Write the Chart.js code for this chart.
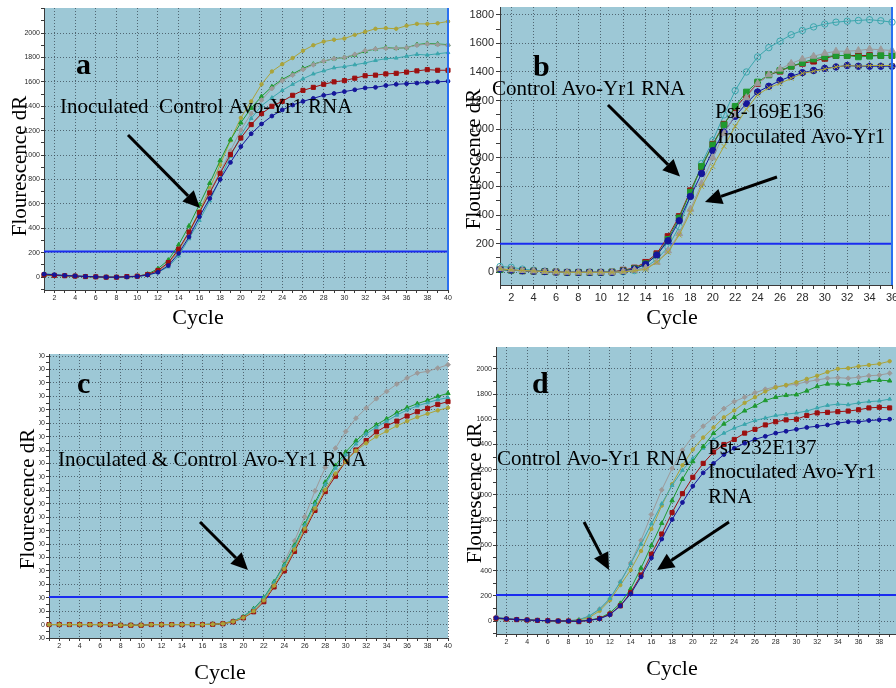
<!DOCTYPE html>
<html>
<head>
<meta charset="utf-8">
<script src="https://cdn.jsdelivr.net/npm/chart.js@4.4.1/dist/chart.umd.min.js"></script>
<style>
  html, body { margin: 0; padding: 0; background: #fff; overflow: hidden; }
  #page { position: relative; width: 896px; height: 688px; overflow: hidden; }
  canvas { position: absolute; }
</style>
</head>
<body>
<div id="page">
  <canvas id="chartA" width="460" height="336" style="left:0px;top:0px"></canvas>
  <canvas id="chartB" width="460" height="336" style="left:452px;top:0px"></canvas>
  <canvas id="chartC" width="460" height="348" style="left:0px;top:340px"></canvas>
  <canvas id="chartD" width="470" height="348" style="left:452px;top:340px"></canvas>
</div>
<script>
// x axis: cycle numbers
const cycles40 = [1, 2, 3, 4, 5, 6, 7, 8, 9, 10, 11, 12, 13, 14, 15, 16, 17, 18, 19, 20,
  21, 22, 23, 24, 25, 26, 27, 28, 29, 30, 31, 32, 33, 34, 35, 36, 37, 38, 39, 40];
const cycles36 = [1, 2, 3, 4, 5, 6, 7, 8, 9, 10, 11, 12, 13, 14, 15, 16, 17, 18,
  19, 20, 21, 22, 23, 24, 25, 26, 27, 28, 29, 30, 31, 32, 33, 34, 35, 36];

// panel a
const blueA = [25, 20, 14, 10, 6, 3, 0, 0, 2, 6, 18, 40, 95, 195, 330, 495, 645, 800, 940, 1070,
  1175, 1255, 1320, 1370, 1410, 1440, 1465, 1490, 1505, 1520, 1535, 1550, 1555, 1570, 1580, 1585, 1590, 1595, 1600, 1605];
const redA = [20, 15, 12, 9, 5, 3, 0, 0, 5, 8, 22, 55, 120, 230, 370, 530, 690, 850, 1005, 1140,
  1250, 1340, 1400, 1440, 1490, 1530, 1555, 1580, 1600, 1610, 1630, 1650, 1655, 1665, 1670, 1680, 1690, 1700, 1695, 1695];
const tealA = [28, 22, 16, 12, 7, 3, 0, 0, 2, 6, 16, 40, 85, 175, 315, 465, 625, 805, 990, 1160,
  1300, 1405, 1470, 1530, 1580, 1625, 1665, 1690, 1715, 1725, 1740, 1755, 1775, 1790, 1795, 1810, 1825, 1820, 1830, 1840];
const grayA = [22, 17, 13, 10, 6, 3, 0, 0, 3, 8, 20, 55, 110, 210, 360, 525, 705, 860, 1035, 1205,
  1340, 1450, 1545, 1610, 1655, 1700, 1740, 1770, 1790, 1800, 1825, 1855, 1870, 1875, 1875, 1880, 1900, 1910, 1905, 1900];
const greenA = [18, 14, 10, 8, 5, 2, 0, 0, 2, 8, 25, 70, 140, 265, 420, 595, 770, 955, 1125, 1265,
  1385, 1480, 1560, 1620, 1665, 1710, 1745, 1770, 1790, 1800, 1820, 1850, 1870, 1880, 1875, 1880, 1905, 1915, 1910, 1905];
const oliveA = [20, 16, 12, 9, 5, 2, 0, 0, 2, 7, 20, 50, 110, 220, 370, 540, 730, 920, 1120, 1305,
  1440, 1580, 1685, 1745, 1795, 1855, 1900, 1930, 1945, 1955, 1985, 2010, 2035, 2040, 2035, 2060, 2075, 2075, 2080, 2095];

// panel b
const tealB = [40, 35, 22, 15, 8, 3, 0, 0, 0, 0, 0, 3, 12, 35, 90, 175, 320, 530, 760, 920,
  1100, 1270, 1400, 1505, 1570, 1615, 1660, 1690, 1715, 1735, 1748, 1755, 1760, 1765, 1758, 1748];
const redB = [20, 15, 10, 8, 5, 2, 0, 0, 0, 0, 2, 15, 30, 70, 130, 250, 390, 570, 735, 895,
  1035, 1150, 1235, 1320, 1380, 1405, 1440, 1460, 1475, 1495, 1515, 1515, 1515, 1515, 1515, 1515];
const greenB = [18, 14, 10, 8, 5, 2, 0, 0, 0, 0, 2, 10, 25, 60, 120, 230, 380, 560, 740, 890,
  1030, 1160, 1260, 1330, 1380, 1410, 1440, 1465, 1490, 1505, 1515, 1515, 1505, 1510, 1515, 1515];
const grayB = [25, 18, 12, 9, 5, 2, 0, 0, 0, 0, 0, 5, 15, 30, 70, 150, 270, 440, 620, 800,
  970, 1100, 1220, 1320, 1380, 1420, 1460, 1490, 1510, 1530, 1545, 1545, 1550, 1560, 1555, 1550];
const blueB = [22, 16, 11, 8, 5, 2, 0, 0, 0, 0, 0, 8, 22, 55, 120, 220, 360, 530, 690, 850,
  980, 1090, 1180, 1260, 1300, 1340, 1370, 1395, 1410, 1425, 1435, 1445, 1440, 1440, 1440, 1440];
const oliveB = [24, 17, 12, 9, 5, 2, 0, 0, 0, 0, 0, 3, 10, 20, 70, 140, 260, 420, 600, 740,
  880, 1020, 1140, 1240, 1290, 1320, 1355, 1390, 1405, 1420, 1435, 1445, 1440, 1445, 1445, 1445];

// panel c
const grayC = [0, 0, 0, 0, 0, 0, 0, -5, -5, -5, 0, 0, 0, 0, 0, 0, 5, 10, 25, 57,
  112, 189, 306, 468, 624, 803, 995, 1169, 1313, 1438, 1537, 1612, 1682, 1736, 1791, 1836, 1873, 1886, 1910, 1935];
const greenC = [0, 0, 0, 0, 0, 0, 0, -5, -5, -5, 0, 0, 0, 0, 0, 0, 3, 8, 25, 60,
  118, 200, 318, 445, 590, 750, 910, 1060, 1185, 1285, 1368, 1437, 1488, 1532, 1578, 1615, 1645, 1670, 1700, 1722];
const tealC = [0, 0, 0, 0, 0, 0, 0, -5, -5, -5, 0, 0, 0, 0, 0, 0, 3, 8, 24, 58,
  115, 195, 312, 440, 580, 740, 895, 1045, 1165, 1265, 1345, 1420, 1470, 1515, 1560, 1598, 1628, 1652, 1675, 1690];
const redC = [0, 0, 0, 0, 0, 0, 0, -5, -5, -5, 0, 0, 0, 0, 0, 0, 2, 6, 20, 50,
  95, 170, 280, 400, 545, 700, 850, 990, 1105, 1214, 1300, 1370, 1435, 1480, 1515, 1553, 1585, 1610, 1640, 1660];
const oliveC = [0, 0, 0, 0, 0, 0, 0, -5, -5, -5, 0, 0, 0, 0, 0, 0, 2, 7, 22, 52,
  100, 180, 290, 415, 560, 715, 865, 1005, 1125, 1214, 1295, 1350, 1400, 1440, 1480, 1515, 1545, 1570, 1595, 1615];

// panel d (last cycle is cut off by the figure edge)
const grayD = [30, 20, 14, 10, 6, 2, 0, 2, 12, 35, 95, 175, 310, 460, 640, 845, 1040, 1210, 1355, 1465,
  1545, 1610, 1685, 1740, 1775, 1810, 1838, 1858, 1868, 1878, 1898, 1912, 1925, 1930, 1925, 1933, 1945, 1950, 1965];
const oliveD = [25, 18, 12, 9, 5, 2, 0, 0, 8, 28, 80, 165, 285, 405, 555, 730, 915, 1085, 1235, 1360,
  1455, 1535, 1615, 1670, 1730, 1775, 1820, 1852, 1872, 1893, 1920, 1945, 1975, 2000, 2005, 2020, 2030, 2040, 2060];
const tealD = [28, 20, 13, 10, 6, 2, 0, 1, 10, 40, 95, 180, 310, 455, 610, 770, 930, 1075, 1195, 1290,
  1370, 1440, 1490, 1530, 1560, 1590, 1610, 1630, 1640, 1650, 1665, 1690, 1710, 1720, 1715, 1730, 1740, 1745, 1760];
const greenD = [20, 15, 10, 8, 5, 2, 0, 0, 2, 8, 22, 65, 140, 255, 420, 598, 775, 955, 1125, 1265,
  1384, 1489, 1563, 1616, 1667, 1706, 1749, 1775, 1790, 1795, 1825, 1860, 1880, 1880, 1875, 1885, 1905, 1910, 1905];
const redD = [22, 15, 11, 8, 5, 2, 0, 0, -5, 5, 20, 55, 120, 225, 365, 530, 690, 860, 1010, 1140,
  1250, 1340, 1400, 1440, 1490, 1520, 1555, 1580, 1595, 1600, 1630, 1650, 1655, 1660, 1665, 1675, 1690, 1695, 1690];
const blueD = [25, 18, 12, 9, 5, 2, 0, 0, -3, 5, 18, 50, 120, 215, 350, 500, 650, 805, 940, 1070,
  1175, 1250, 1320, 1370, 1410, 1440, 1465, 1490, 1505, 1520, 1535, 1545, 1555, 1570, 1580, 1580, 1590, 1595, 1600];

// y axis tick values
const yTicksA = [-100, 0, 100, 200, 300, 400, 500, 600, 700, 800, 900, 1000, 1100, 1200,
  1300, 1400, 1500, 1600, 1700, 1800, 1900, 2000, 2100, 2200];
const yTicksB = [0, 100, 200, 300, 400, 500, 600, 700, 800, 900, 1000, 1100, 1200,
  1300, 1400, 1500, 1600, 1700, 1800];
const yTicksC = [-100, -50, 0, 50, 100, 150, 200, 250, 300, 350, 400, 450, 500, 550, 600, 650,
  700, 750, 800, 850, 900, 950, 1000, 1050, 1100, 1150, 1200, 1250, 1300, 1350, 1400, 1450,
  1500, 1550, 1600, 1650, 1700, 1750, 1800, 1850, 1900, 1950, 2000];
const yTicksD = [-100, 0, 100, 200, 300, 400, 500, 600, 700, 800, 900, 1000, 1100, 1200,
  1300, 1400, 1500, 1600, 1700, 1800, 1900, 2000, 2100];

// threshold lines
const thresholdA = 210;
const thresholdB = 200;
const thresholdC = 206;
const thresholdD = 206;

const COL = {
  olive: "#aba43a",
  gray: "#9c9a9a",
  green: "#1f9a30",
  teal: "#3ba6ad",
  red: "#9c1010",
  blue: "#15169a",
};
const PLOT_BG = "#9dc8d6";
const DOTS = "rgba(55,70,80,0.75)";
const AXIS = "#3a3a3a";
const NONE = "rgba(0,0,0,0)";
const SERIF = "'Liberation Serif', 'Times New Roman', serif";

function line(data, color, style, radius, hollow) {
  return {
    data: data,
    borderColor: color,
    backgroundColor: color,
    pointBackgroundColor: hollow ? NONE : color,
    pointBorderColor: color,
    pointStyle: style,
    pointRadius: radius,
    pointBorderWidth: 1,
    borderWidth: 1,
    tension: 0,
    fill: false,
  };
}

function drawArrow(ctx, x1, y1, x2, y2) {
  const ang = Math.atan2(y2 - y1, x2 - x1);
  const len = 17, half = 8;
  const bx = x2 - len * Math.cos(ang);
  const by = y2 - len * Math.sin(ang);
  ctx.strokeStyle = "#000";
  ctx.fillStyle = "#000";
  ctx.lineWidth = 3;
  ctx.beginPath();
  ctx.moveTo(x1, y1);
  ctx.lineTo(bx, by);
  ctx.stroke();
  ctx.beginPath();
  ctx.moveTo(x2, y2);
  ctx.lineTo(bx + half * Math.sin(ang), by - half * Math.cos(ang));
  ctx.lineTo(bx - half * Math.sin(ang), by + half * Math.cos(ang));
  ctx.closePath();
  ctx.fill();
}

// plot background, threshold line, right cursor line, titles, labels and arrows
const overlay = {
  id: "overlay",
  beforeDraw(chart, args, opts) {
    const { ctx, chartArea: a } = chart;
    ctx.save();
    ctx.fillStyle = PLOT_BG;
    ctx.fillRect(a.left, a.top, a.right - a.left, a.bottom - a.top);
    ctx.restore();
  },
  beforeDatasetsDraw(chart, args, opts) {
    const { ctx, chartArea: a } = chart;
    const y = chart.scales.y.getPixelForValue(opts.threshold);
    ctx.save();
    ctx.strokeStyle = "#1a2cf0";
    ctx.lineWidth = 2;
    ctx.beginPath();
    ctx.moveTo(a.left, y);
    ctx.lineTo(a.right, y);
    ctx.stroke();
    ctx.restore();
  },
  afterDraw(chart, args, opts) {
    const { ctx, chartArea: a } = chart;
    const xs = chart.scales.x, ys = chart.scales.y;
    ctx.save();
    if (opts.cursor) {
      ctx.strokeStyle = "#2a70f0";
      ctx.lineWidth = 2;
      ctx.beginPath();
      ctx.moveTo(a.right, a.top);
      ctx.lineTo(a.right, a.bottom);
      ctx.stroke();
    }
    if (opts.clipLeft) {
      // tick labels of panel c are cut off at the left
      ctx.fillStyle = "#fff";
      ctx.fillRect(0, a.top - 8, opts.clipLeft, a.bottom - a.top + 16);
    }
    ctx.fillStyle = "#000";
    ctx.textBaseline = "alphabetic";
    ctx.textAlign = "left";
    ctx.font = "bold 30px " + SERIF;
    ctx.fillText(opts.letter[0], opts.letter[1], opts.letter[2]);
    ctx.font = "21px " + SERIF;
    opts.notes.forEach(n => ctx.fillText(n[0], n[1], n[2]));
    ctx.textAlign = "center";
    ctx.font = "22px " + SERIF;
    ctx.fillText("Cycle", opts.xTitle[0], opts.xTitle[1]);
    ctx.save();
    ctx.translate(opts.yTitle[0], opts.yTitle[1]);
    ctx.rotate(-Math.PI / 2);
    ctx.textBaseline = "middle";
    ctx.font = "21px " + SERIF;
    ctx.fillText("Flourescence dR", 0, 0);
    ctx.restore();
    opts.arrows.forEach(r => {
      drawArrow(ctx,
        xs.getPixelForValue(r[0] - 1), ys.getPixelForValue(r[1]),
        xs.getPixelForValue(r[2] - 1), ys.getPixelForValue(r[3]));
    });
    ctx.restore();
  },
};

function makeChart(id, labels, datasets, cfg) {
  return new Chart(document.getElementById(id), {
    type: "line",
    data: { labels: labels.map(String), datasets: datasets },
    options: {
      responsive: false,
      animation: false,
      devicePixelRatio: 1,
      layout: { padding: cfg.padding },
      plugins: {
        legend: { display: false },
        tooltip: { enabled: false },
        overlay: cfg.overlay,
      },
      scales: {
        x: {
          grid: {
            color: c => (c.index % 2 === 1 ? DOTS : NONE),
            tickColor: AXIS,
            tickLength: cfg.tickLen,
          },
          border: { color: AXIS, width: 1, dash: [1, 2] },
          ticks: {
            autoSkip: false,
            maxRotation: 0,
            minRotation: 0,
            padding: cfg.tickPad,
            color: "#2a2a2a",
            font: { family: "'Liberation Sans', Arial, sans-serif", size: cfg.tickFont },
            callback: (v, i) => (labels[i] % 2 === 0 ? String(labels[i]) : ""),
          },
          afterFit: s => {
            s.height = cfg.xHeight;
            s.paddingLeft = 0;
            s.paddingRight = 0;
          },
        },
        y: {
          min: cfg.yMin,
          max: cfg.yMax,
          afterBuildTicks: s => {
            s.ticks = cfg.yTicks.map(v => ({ value: v }));
          },
          grid: {
            color: c => (c.tick && cfg.labeled(c.tick.value) ? DOTS : NONE),
            tickColor: AXIS,
            tickLength: cfg.tickLen,
          },
          border: { color: AXIS, width: 1, dash: [1, 2] },
          ticks: {
            autoSkip: false,
            padding: cfg.tickPad,
            color: "#2a2a2a",
            font: { family: "'Liberation Sans', Arial, sans-serif", size: cfg.tickFont },
            callback: v => (cfg.labeled(v) ? String(v) : ""),
          },
          afterFit: s => {
            s.width = cfg.yWidth;
            s.paddingTop = 0;
            s.paddingBottom = 0;
          },
        },
      },
    },
    plugins: [overlay],
  });
}

// a
makeChart("chartA", cycles40, [
  line(blueA, COL.blue, "circle", 1.9),
  line(redA, COL.red, "rect", 2.9),
  line(tealA, COL.teal, "triangle", 2.1),
  line(grayA, COL.gray, "rectRot", 2.4),
  line(greenA, COL.green, "triangle", 2.5),
  line(oliveA, COL.olive, "circle", 1.7),
], {
  padding: { left: 0, right: 12, top: 8, bottom: 0 },
  yWidth: 44, xHeight: 46, tickLen: 3, tickPad: 1, tickFont: 7,
  yMin: -105, yMax: 2205, yTicks: yTicksA,
  labeled: v => v % 200 === 0 && v >= 0 && v <= 2000,
  overlay: {
    threshold: thresholdA, cursor: true,
    letter: ["a", 76, 74],
    notes: [["Inoculated  Control Avo-Yr1 RNA", 60, 113]],
    xTitle: [198, 324], yTitle: [20, 166],
    arrows: [[9.11, 1165, 16.06, 567]],
  },
});

// b
makeChart("chartB", cycles36, [
  line(oliveB, COL.olive, "crossRot", 3.5),
  line(grayB, COL.gray, "triangle", 4),
  line(blueB, COL.blue, "circle", 3.2),
  line(greenB, COL.green, "rect", 4),
  line(redB, COL.red, "rect", 4),
  line(tealB, COL.teal, "circle", 3.2, true),
], {
  padding: { left: 0, right: 20, top: 7, bottom: 0 },
  yWidth: 48, xHeight: 51, tickLen: 4, tickPad: 2, tickFont: 11,
  yMin: -89, yMax: 1854, yTicks: yTicksB,
  labeled: v => v % 200 === 0,
  overlay: {
    threshold: thresholdB, cursor: true,
    letter: ["b", 81, 76],
    notes: [["Control Avo-Yr1 RNA", 40, 95], ["Pst-169E136", 263, 118], ["Inoculated Avo-Yr1", 265, 143]],
    xTitle: [220, 324], yTitle: [22, 159],
    arrows: [[10.64, 1169, 17.07, 669], [25.73, 666, 19.3, 491]],
  },
});

// c
makeChart("chartC", cycles40, [
  line(oliveC, COL.olive, "circle", 1.7),
  line(redC, COL.red, "rect", 2.9),
  line(tealC, COL.teal, "triangle", 2.1),
  line(greenC, COL.green, "triangle", 2.5),
  line(grayC, COL.gray, "rectRot", 2.4),
], {
  padding: { left: 0, right: 12, top: 14, bottom: 0 },
  yWidth: 49, xHeight: 50, tickLen: 3, tickPad: 1, tickFont: 7,
  yMin: -100, yMax: 2015, yTicks: yTicksC,
  labeled: v => v % 100 === 0,
  overlay: {
    threshold: thresholdC, cursor: false, clipLeft: 39,
    letter: ["c", 77, 53],
    notes: [["Inoculated & Control Avo-Yr1 RNA", 58, 126]],
    xTitle: [220, 339], yTitle: [28, 159],
    arrows: [[15.76, 764, 20.45, 406]],
  },
});

// d
makeChart("chartD", cycles40, [
  line(blueD, COL.blue, "circle", 1.9),
  line(redD, COL.red, "rect", 2.9),
  line(greenD, COL.green, "triangle", 2.5),
  line(tealD, COL.teal, "triangle", 2.1),
  line(oliveD, COL.olive, "circle", 1.7),
  line(grayD, COL.gray, "rectRot", 2.4),
], {
  padding: { left: 0, right: 22, top: 7, bottom: 0 },
  yWidth: 44, xHeight: 54, tickLen: 3, tickPad: 1, tickFont: 7,
  yMin: -103, yMax: 2173, yTicks: yTicksD,
  labeled: v => v % 200 === 0 && v >= 0 && v <= 2000,
  overlay: {
    threshold: thresholdD, cursor: false,
    letter: ["d", 80, 53],
    notes: [["Control Avo-Yr1 RNA", 45, 125], ["Pst-232E137", 256, 114],
      ["Inoculated Avo-Yr1", 256, 138], ["RNA", 256, 163]],
    xTitle: [220, 335], yTitle: [23, 153],
    arrows: [[9.5, 785, 11.91, 405], [23.49, 785, 16.54, 405]],
  },
});
</script>
</body>
</html>
